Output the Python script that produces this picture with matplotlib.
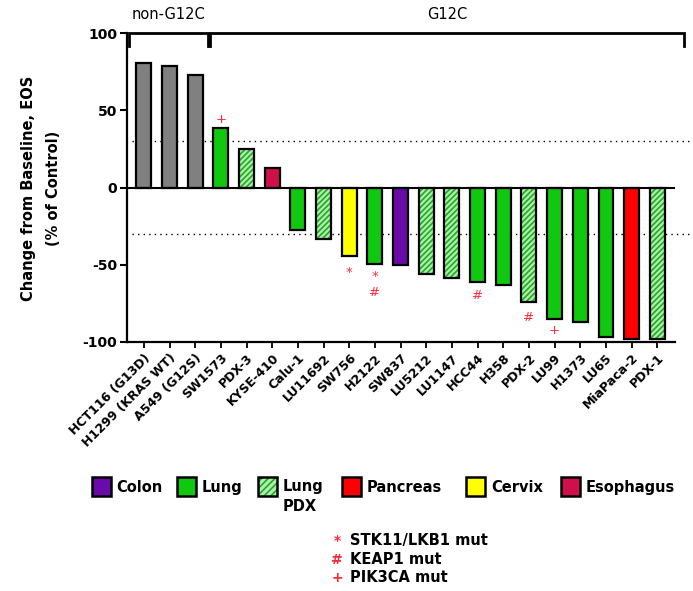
import matplotlib.pyplot as plt
from matplotlib.patches import Rectangle

# data
cell_lines = ["HCT116 (G13D)", "H1299 (KRAS WT)", "A549 (G12S)", "SW1573", "PDX-3",
              "KYSE-410", "Calu-1", "LU11692", "SW756", "H2122", "SW837", "LU5212",
              "LU1147", "HCC44", "H358", "PDX-2", "LU99", "H1373", "LU65", "MiaPaca-2", "PDX-1"]
change = [81, 79, 73, 38.5, 25, 12.5, -27.5, -33.5, -44.5, -49.5, -50.5, -56, -58.5,
          -61, -63, -74.5, -85, -87.5, -97, -98.5, -98.5]
tissue = ["none", "none", "none", "Lung", "Lung PDX", "Esophagus", "Lung", "Lung PDX",
          "Cervix", "Lung", "Colon", "Lung PDX", "Lung PDX", "Lung", "Lung", "Lung PDX",
          "Lung", "Lung", "Lung", "Pancreas", "Lung PDX"]
# mutation marks: (bar index, symbol, value where the mark sits)
mut_marks = [(3, "+", 44), (8, "*", -55), (9, "*", -58), (9, "#", -68),
             (13, "#", -70), (15, "#", -84), (16, "+", -92.5)]
groups = ["non-G12C", "G12C"]
group_sizes = [3, 18]

legend_names = ["Colon", "Lung", "Lung\nPDX", "Pancreas", "Cervix", "Esophagus"]
legend_keys = ["Colon", "Lung", "Lung PDX", "Pancreas", "Cervix", "Esophagus"]
mut_legend = [("*", "STK11/LKB1 mut"), ("#", "KEAP1 mut"), ("+", "PIK3CA mut")]

colors = {"none": "#808080", "Lung": "#11c811", "Lung PDX": "#b4eab4",
          "Esophagus": "#d0104c", "Cervix": "#ffff00", "Colon": "#6a0aa8",
          "Pancreas": "#ff0000"}
hatch_green = "#18b018"
mark_red = "#ff2a3a"

plt.rcParams['font.family'] = 'DejaVu Sans'
plt.rcParams['hatch.linewidth'] = 1.2

W, H = 693, 591
fig = plt.figure(figsize=(W / 100, H / 100), dpi=100)
ax = fig.add_axes([126.7 / W, 1 - 341.7 / H, (675 - 126.7) / W, (341.7 - 33.3) / H])

x = list(range(len(cell_lines)))
bw = 0.58
for i, v, t in zip(x, change, tissue):
    if t == "Lung PDX":
        ax.bar(i, v, bw, color=colors[t], edgecolor=hatch_green, hatch="//////", linewidth=0, zorder=2)
        ax.bar(i, v, bw, color="none", edgecolor="black", linewidth=1.6, zorder=3)
    else:
        ax.bar(i, v, bw, color=colors[t], edgecolor="black", linewidth=1.6, zorder=3)

for i, sym, yv in mut_marks:
    ax.text(i, yv, sym, color=mark_red, ha="center", va="center", fontsize=9.5, zorder=4)

ax.set_xlim(-0.67, 20.69)
ax.set_ylim(-100, 100)
ax.axhline(0, color="black", lw=1.5, zorder=4)
for yy in (30, -30):
    ax.plot([-0.47, 21.27], [yy, yy], color="black", lw=1, linestyle=(0, (1, 3)),
            clip_on=False, zorder=1)

# group brackets
start = 0
edges = []
for n in group_sizes:
    edges.append((start, start + n - 1))
    start += n
spans = [(edges[0][0] - 0.58, edges[0][1] + 0.5), (edges[1][0] - 0.42, edges[1][1] + 1.04)]
for (a, b), name in zip(spans, groups):
    ax.plot([a, a, b, b], [91.8, 100, 100, 91.8], color="black", lw=2, clip_on=False,
            solid_joinstyle="miter")
    ax.text((a + b) / 2, 112, name, ha="center", va="center", fontsize=10.5)

for s in ("top", "right"):
    ax.spines[s].set_visible(False)
ax.spines["left"].set_linewidth(1.6)
ax.spines["bottom"].set_linewidth(1.6)
ax.set_yticks([100, 50, 0, -50, -100])
ax.set_yticklabels(["100", "50", "0", "-50", "-100"], fontweight="bold", fontsize=10)
ax.tick_params(axis="y", length=5, width=1.5, pad=2)
ax.set_xticks(x)
ax.set_xticklabels(cell_lines, rotation=45, ha="right", rotation_mode="anchor",
                   fontweight="bold", fontsize=9)
ax.tick_params(axis="x", length=4, width=1.3, pad=3)

fig.text(28 / W, 1 - 188 / H, "Change from Baseline, EOS", rotation=90, ha="center",
         va="center", fontweight="bold", fontsize=10.5)
fig.text(53 / W, 1 - 188 / H, "(% of Control)", rotation=90, ha="center",
         va="center", fontweight="bold", fontsize=10.5)

# tissue legend
patch_x = [91.7, 176.7, 258, 341.7, 466, 561]
ps = 19
py = 477
for px, key, name in zip(patch_x, legend_keys, legend_names):
    if key == "Lung PDX":
        fig.patches.append(Rectangle((px / W, 1 - (py + ps) / H), ps / W, ps / H,
                                     transform=fig.transFigure, facecolor=colors[key],
                                     edgecolor=hatch_green, hatch="/////", linewidth=0))
    fig.patches.append(Rectangle((px / W, 1 - (py + ps) / H), ps / W, ps / H,
                                 transform=fig.transFigure,
                                 facecolor="none" if key == "Lung PDX" else colors[key],
                                 edgecolor="black", linewidth=1.8))
    two_line = "\n" in name
    ty = 1 - (py + 2) / H if two_line else 1 - (py + ps / 2 + 1) / H
    fig.text((px + ps + 6) / W, ty, name, ha="left", va="top" if two_line else "center",
             fontweight="bold", fontsize=10.5, linespacing=1.45)

# mutation legend
for k, (sym, label) in enumerate(mut_legend):
    yy = 1 - (541 + k * 18.5) / H
    fig.text(337 / W, yy, sym, color=mark_red, ha="center", va="center", fontsize=10,
             fontweight="bold")
    fig.text(350 / W, yy, label, ha="left", va="center", fontsize=10.5, fontweight="bold")

fig.savefig("out.png", dpi=100)
